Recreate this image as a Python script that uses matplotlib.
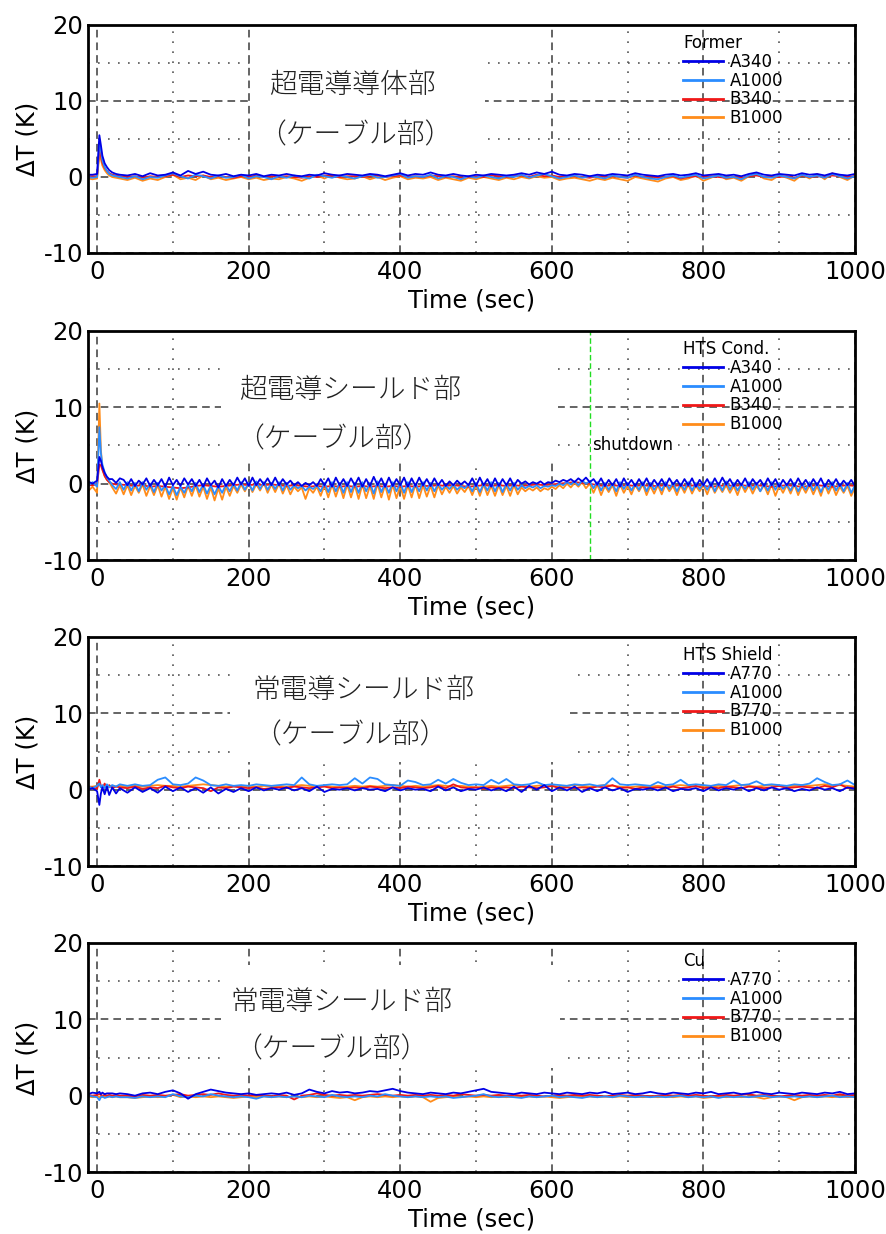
import matplotlib.pyplot as plt
from matplotlib.patches import Rectangle
from matplotlib.ticker import MultipleLocator

plt.rcParams['font.family'] = ['DejaVu Sans', 'Noto Sans CJK JP']
plt.rcParams['axes.unicode_minus'] = False

W, H = 887, 1234

# sampling times (sec)
t = [-12, -6, 0, 3, 5, 7, 10, 13, 16, 20, 25, 30] + list(range(40, 1001, 10))
# finer sampling used for the noisy conductor channels
t_fine = [-12, -6, 0, 3, 5, 7, 10, 13, 16, 20, 25, 30] + list(range(35, 1001, 5))

# --- Former ---
former_a340 = [0.3, 0.3, 0.4, 5.5, 4.2, 2.8, 1.8, 1.3, 0.9, 0.6, 0.4, 0.3,
               0.2, 0.4, 0.1, 0.5, 0.2, 0.3, 0.6, 0.2, 0.8, 0.4,
               0.7, 0.3, 0.2, 0.4, 0.1, 0.3, 0.2, 0.4, 0.1, 0.3,
               0.2, 0.4, 0.2, 0.1, 0.3, 0.2, 0.5, 0.3, 0.2, 0.4,
               0.3, 0.2, 0.4, 0.3, 0.1, 0.3, 0.5, 0.2, 0.4, 0.3,
               0.6, 0.3, 0.2, 0.4, 0.2, 0.1, 0.3, 0.2, 0.4, 0.3,
               0.2, 0.3, 0.5, 0.3, 0.6, 0.4, 0.7, 0.3, 0.2, 0.4,
               0.3, 0.1, 0.3, 0.2, 0.4, 0.3, 0.2, 0.5, 0.3, 0.2,
               0.1, 0.3, 0.4, 0.2, 0.3, 0.5, 0.2, 0.3, 0.4, 0.2,
               0.3, 0.1, 0.4, 0.6, 0.3, 0.2, 0.4, 0.3, 0.2, 0.5,
               0.3, 0.4, 0.2, 0.5, 0.3, 0.2, 0.4]
former_a1000 = [0.0, -0.1, 0.0, 4.6, 3.5, 2.2, 1.3, 0.8, 0.4, 0.2, 0.1, 0.0,
                -0.2, 0.1, -0.3, 0.0, -0.1, 0.2, 0.5, 0.1, -0.2, 0.3,
                0.1, -0.2, 0.2, -0.1, 0.0, 0.3, -0.2, 0.1, 0.0, -0.3,
                0.1, -0.1, 0.2, 0.0, -0.2, 0.3, 0.1, -0.1, 0.2, 0.0,
                -0.2, 0.1, 0.3, -0.1, 0.0, 0.2, 0.4, -0.1, 0.1, 0.0,
                0.3, -0.2, 0.1, 0.0, -0.3, 0.1, -0.1, 0.2, 0.0, -0.2,
                0.1, 0.0, 0.3, -0.1, 0.2, 0.4, 0.1, -0.2, 0.0, 0.2,
                -0.1, 0.1, 0.0, -0.2, 0.2, 0.0, -0.1, 0.3, 0.0, -0.2,
                -0.3, 0.0, 0.2, -0.1, 0.1, 0.3, -0.2, 0.0, 0.2, -0.1,
                0.0, -0.3, 0.2, 0.4, 0.0, -0.1, 0.2, 0.0, -0.2, 0.3,
                0.0, 0.2, -0.1, 0.4, 0.1, -0.2, 0.1]
former_b340 = [0.1, 0.1, 0.1, 3.6, 2.8, 1.9, 1.2, 0.8, 0.5, 0.3, 0.2, 0.1,
               0.0, 0.1, -0.1, 0.1, 0.0, 0.1, 0.3, 0.0, 0.2, 0.1,
               0.2, 0.0, 0.1, 0.0, -0.1, 0.1, 0.0, 0.2, 0.0, 0.1,
               0.0, 0.1, 0.0, -0.1, 0.1, 0.0, 0.2, 0.1, 0.0, 0.1,
               0.1, 0.0, 0.1, 0.2, 0.0, 0.1, 0.2, 0.0, 0.1, 0.0,
               0.2, 0.1, 0.0, 0.1, -0.1, 0.0, 0.1, 0.0, 0.2, 0.1,
               0.0, 0.1, 0.2, 0.0, 0.3, 0.1, 0.2, 0.0, 0.1, 0.1,
               0.0, -0.1, 0.1, 0.0, 0.1, 0.0, -0.1, 0.2, 0.0, 0.1,
               -0.1, 0.0, 0.1, -0.2, 0.0, 0.1, 0.0, 0.1, 0.0, -0.1,
               0.0, -0.1, 0.1, 0.2, 0.0, 0.1, 0.0, 0.1, -0.1, 0.2,
               0.0, 0.1, 0.0, 0.2, 0.1, 0.0, 0.1]
former_b1000 = [-0.2, -0.3, -0.2, 3.0, 2.3, 1.5, 0.9, 0.5, 0.2, 0.0, -0.1, -0.2,
                -0.4, -0.1, -0.5, -0.2, -0.4, 0.0, 0.3, -0.3, -0.1, -0.4,
                0.2, -0.3, -0.1, -0.4, -0.2, 0.0, -0.3, -0.1, -0.4, -0.2,
                -0.3, 0.0, -0.2, -0.5, -0.1, 0.2, -0.2, 0.3, -0.1, -0.3,
                -0.2, 0.1, -0.3, 0.0, -0.4, -0.1, 0.1, -0.3, -0.1, -0.2,
                0.0, -0.4, -0.1, -0.3, -0.5, -0.1, -0.3, 0.0, -0.2, -0.4,
                -0.1, -0.3, 0.0, -0.2, 0.1, -0.1, 0.0, -0.4, -0.2, -0.1,
                -0.3, -0.5, -0.2, -0.4, -0.1, -0.3, -0.5, 0.0, -0.2, -0.4,
                -0.6, -0.2, 0.0, -0.4, -0.2, 0.2, -0.5, -0.1, 0.3, -0.3,
                -0.1, -0.5, 0.1, 0.4, -0.2, -0.4, 0.2, -0.1, -0.5, 0.3,
                -0.2, 0.4, -0.3, 0.5, 0.0, -0.4, 0.2]

# --- HTS conductor (A340, A1000, B1000 on t_fine; B340 on t) ---
cond_a340 = [0.3, 0.0, 0.4, 3.5, 3.0, 2.2, 1.4, 0.9, 0.6, 0.6, 0.1, 0.7,
             0.5, -0.2, 0.6, -0.3, 0.4, -0.1, 0.7, -0.3, 0.5, -0.2, 0.6, -0.4, 0.8, -0.2, 0.5, -0.3, 0.7, -0.1, 0.6, -0.3,
             0.5, -0.4, 0.7, -0.2, 0.4, -0.5, 0.6, -0.3, 0.5, -0.2, 0.8, -0.1, 0.7, -0.3, 0.8, -0.2, 0.6, -0.1, 0.7, -0.2,
             0.8, -0.2, 0.6, -0.1, 0.4, -0.2, 0.2, -0.3, 0.1, -0.2, 0.2, -0.3, 0.6, -0.2, 0.7, -0.4, 0.8, -0.2, 0.6, -0.3,
             0.7, -0.2, 0.8, -0.4, 0.6, -0.3, 0.9, -0.2, 0.7, -0.4, 0.8, -0.3, 0.6, -0.2, 0.8, -0.4, 0.7, -0.3, 0.8, -0.2,
             0.6, -0.3, 0.7, -0.2, 0.5, -0.3, 0.3, -0.2, 0.4, -0.1, 0.3, -0.2, 0.7, -0.3, 0.8, -0.2, 0.6, -0.4, 0.7, -0.3,
             0.6, -0.2, 0.7, -0.3, 0.5, 0.0, 0.3, -0.1, 0.2, 0.0, 0.3, -0.1, 0.2, 0.1, 0.4, 0.2, 0.5, 0.3, 0.6, 0.2,
             0.7, 0.3, 0.8, 0.2, 0.6, -0.1, 0.7, -0.3, 0.5, -0.2, 0.6, -0.4, 0.7, -0.2, 0.5, -0.3, 0.6, -0.2, 0.7, -0.3,
             0.5, -0.2, 0.6, -0.3, 0.7, -0.1, 0.5, -0.3, 0.6, -0.2, 0.7, -0.4, 0.5, -0.2, 0.6, -0.3, 0.7, -0.2, 0.8, -0.1,
             0.6, -0.3, 0.5, -0.2, 0.7, -0.3, 0.6, -0.1, 0.5, -0.3, 0.7, -0.2, 0.6, -0.4, 0.5, -0.2, 0.6, -0.3, 0.7, -0.2,
             0.5, -0.3, 0.6, -0.2, 0.7, -0.4, 0.5, -0.2, 0.6, -0.3, 0.4, -0.2, 0.5, -0.3]
cond_a1000 = [-0.3, 0.2, -0.4, 7.4, 4.0, 2.5, 1.5, 0.8, 0.4, -0.2, -0.7, 0.2,
              -0.8, 0.2, -0.9, 0.1, -1.0, 0.2, -0.8, 0.0, -1.1, 0.1, -0.9, -0.2, -1.4, -0.3, -1.5, -0.4, -1.2, -0.1, -1.0, 0.1,
              -1.1, -0.1, -1.3, -0.2, -1.4, -0.3, -1.2, -0.1, -1.0, 0.0, -0.9, 0.2, -0.8, 0.1, -0.9, 0.3, -0.7, 0.2, -0.8, 0.1,
              -0.7, 0.2, -0.9, 0.1, -0.8, -0.2, -0.6, -0.3, -0.9, -0.4, -0.7, -0.2, -1.0, 0.1, -1.1, 0.2, -1.0, 0.1, -1.2, 0.2,
              -1.1, 0.1, -1.2, 0.2, -1.0, 0.1, -1.3, 0.3, -1.1, 0.0, -1.2, 0.2, -1.0, 0.1, -1.2, 0.2, -1.1, 0.0, -1.0, 0.2,
              -0.9, 0.1, -1.0, 0.0, -0.8, -0.2, -0.7, -0.1, -0.8, -0.3, -0.6, -0.1, -1.0, 0.1, -1.1, 0.0, -0.9, 0.2, -1.0, 0.1,
              -1.1, 0.0, -0.9, 0.1, -0.8, -0.2, -0.6, -0.3, -0.5, -0.2, -0.6, -0.3, -0.4, -0.2, -0.3, 0.0, -0.2, 0.2, -0.1, 0.3,
              -0.2, 0.4, 0.0, 0.3, -0.6, 0.2, -0.9, 0.1, -0.8, 0.0, -1.0, 0.2, -0.7, 0.1, -0.9, 0.0, -0.8, 0.2, -1.0, 0.1,
              -0.8, 0.0, -0.9, 0.2, -0.7, 0.1, -1.0, 0.0, -0.8, 0.2, -0.9, 0.1, -0.7, 0.0, -0.8, 0.2, -1.0, 0.1, -0.9, 0.3,
              -0.8, 0.1, -0.9, 0.0, -0.7, 0.2, -0.8, 0.1, -1.0, 0.0, -0.9, 0.2, -0.8, 0.1, -0.7, -0.1, -0.9, 0.1, -1.0, 0.0,
              -0.8, 0.2, -0.9, 0.1, -1.1, 0.0, -0.8, 0.2, -0.9, 0.0, -1.0, 0.1, -1.2, -0.2]
cond_b340 = [-0.2, -0.2, -0.1, 2.5, 2.4, 1.8, 1.0, 0.5, 0.2, 0.0, -0.1, -0.1,
             -0.2, -0.3, -0.2, -0.4, -0.3, -0.4, -0.5, -0.6, -0.5, -0.3,
             -0.2, -0.3, -0.4, -0.3, -0.2, -0.1, -0.2, -0.1, -0.2, -0.1,
             -0.2, -0.3, -0.2, -0.3, -0.4, -0.3, -0.4, -0.3, -0.4, -0.3,
             -0.4, -0.3, -0.4, -0.3, -0.4, -0.3, -0.4, -0.3, -0.4, -0.3,
             -0.3, -0.2, -0.3, -0.2, -0.3, -0.4, -0.3, -0.2, -0.3, -0.2,
             -0.3, -0.2, -0.3, -0.2, -0.1, -0.2, -0.1, 0.0, 0.1, 0.2,
             0.1, 0.0, -0.2, -0.3, -0.2, -0.3, -0.2, -0.3, -0.2, -0.3,
             -0.3, -0.2, -0.3, -0.2, -0.3, -0.2, -0.3, -0.4, -0.3, -0.2,
             -0.3, -0.2, -0.3, -0.2, -0.3, -0.4, -0.3, -0.2, -0.3, -0.4,
             -0.3, -0.2, -0.3, -0.4, -0.3, -0.2, -0.3]
cond_b1000 = [-1.0, -0.4, -1.2, 10.5, 4.5, 2.0, 1.0, 0.5, 0.2, -0.5, -1.3, -0.2,
              -1.4, -0.2, -1.5, -0.3, -1.2, -0.1, -1.6, -0.3, -1.5, -0.2, -1.7, -0.4, -2.0, -0.6, -2.1, -0.5, -1.8, -0.3, -1.6, -0.2,
              -1.7, -0.4, -2.0, -0.5, -2.2, -0.6, -2.1, -0.4, -1.6, -0.3, -1.2, -0.1, -1.0, 0.0, -1.1, -0.1, -0.9, 0.1, -1.2, -0.1,
              -1.1, 0.0, -1.3, -0.2, -1.4, -0.4, -1.0, -0.5, -2.0, -0.6, -1.2, -0.4, -1.6, -0.2, -1.8, -0.1, -1.7, -0.2, -1.9, -0.1,
              -1.8, -0.2, -2.0, -0.1, -1.9, -0.3, -2.0, 0.0, -1.8, -0.2, -2.1, -0.1, -1.9, -0.3, -2.0, -0.2, -1.8, -0.1, -1.9, -0.2,
              -1.7, -0.3, -1.8, -0.2, -1.4, -0.4, -1.2, -0.3, -1.3, -0.5, -1.1, -0.3, -1.5, -0.2, -1.6, -0.1, -1.5, -0.3, -1.6, -0.2,
              -1.5, -0.3, -1.6, -0.2, -1.4, -0.5, -1.0, -0.6, -0.9, -0.5, -1.0, -0.6, -0.8, -0.4, -0.7, -0.2, -0.6, 0.0, -0.5, 0.1,
              -0.4, 0.2, -0.6, 0.0, -1.2, -0.1, -1.5, -0.3, -1.1, -0.2, -1.6, -0.1, -1.2, -0.3, -1.4, -0.2, -1.0, -0.1, -1.5, -0.3,
              -1.3, -0.2, -1.4, -0.1, -1.0, -0.3, -1.5, -0.2, -1.2, -0.1, -1.3, -0.3, -1.0, -0.2, -1.4, -0.1, -1.2, -0.3, -1.1, -0.2,
              -1.2, -0.3, -1.5, -0.1, -1.1, -0.2, -1.3, -0.3, -1.0, -0.2, -1.4, -0.1, -1.6, -0.3, -1.2, -0.2, -1.3, -0.1, -1.5, -0.3,
              -1.2, -0.2, -1.4, -0.3, -1.6, -0.1, -1.3, -0.2, -1.5, -0.4, -1.2, -0.3, -1.6, -0.5]

# --- HTS shield ---
shield_a770 = [0.0, 0.2, -0.2, -2.0, -0.5, 0.3, -0.6, 0.4, -0.7, 0.3, -0.5, 0.2,
               -0.4, 0.3, -0.3, 0.2, -0.4, 0.4, -0.2, 0.3, -0.3, 0.2,
               -0.4, 0.3, -0.5, 0.1, -0.3, 0.2, -0.2, 0.3, -0.1, 0.2,
               0.0, 0.3, -0.1, 0.2, -0.2, 0.4, -0.3, 0.1, 0.0, 0.2,
               -0.1, 0.2, 0.0, 0.1, -0.2, 0.3, -0.1, 0.2, 0.0, 0.1,
               -0.2, 0.4, -0.1, 0.3, -0.2, 0.1, 0.0, 0.3, -0.1, 0.2,
               -0.2, 0.4, -0.3, 0.5, 0.0, 0.6, -0.2, 0.3, -0.1, 0.4,
               -0.3, 0.2, -0.2, 0.3, -0.1, 0.2, -0.3, 0.1, 0.0, 0.2,
               -0.1, 0.3, -0.2, 0.1, 0.0, 0.2, -0.2, 0.3, -0.1, 0.2,
               0.0, 0.3, -0.2, 0.2, -0.1, 0.3, 0.0, 0.2, -0.2, 0.1,
               -0.1, 0.3, 0.0, 0.2, -0.2, 0.3, 0.1]
shield_a1000 = [0.4, 0.2, 0.5, 0.8, 0.3, 0.6, 0.2, 0.7, 0.3, 0.6, 0.4, 0.7,
                0.5, 0.7, 0.5, 0.6, 1.3, 1.6, 0.7, 0.6, 0.8, 1.6,
                1.2, 0.6, 0.5, 0.7, 0.5, 0.6, 0.5, 0.7, 0.6, 0.5,
                0.6, 0.7, 0.6, 1.6, 0.7, 0.5, 0.6, 0.7, 0.6, 0.7,
                1.5, 0.8, 1.6, 1.4, 0.7, 0.6, 0.5, 1.2, 1.0, 0.6,
                0.7, 1.3, 0.8, 1.4, 0.9, 0.6, 0.7, 0.6, 1.3, 0.8,
                1.4, 0.7, 0.6, 0.7, 1.0, 0.6, 0.7, 0.6, 0.5, 0.7,
                0.6, 0.7, 0.5, 0.6, 1.5, 0.7, 0.6, 0.7, 0.6, 0.5,
                1.0, 0.6, 0.7, 1.3, 0.6, 0.7, 0.6, 0.5, 0.7, 0.6,
                1.2, 0.6, 0.7, 1.1, 0.6, 0.7, 0.6, 0.5, 0.7, 0.6,
                0.8, 1.5, 1.0, 0.6, 0.7, 1.2, 0.6]
shield_b770 = [0.2, 0.3, 0.1, 1.3, 0.5, 0.2, 0.8, 0.1, 0.6, 0.2, 0.4, 0.3,
               0.2, 0.4, 0.1, 0.3, 0.2, 0.5, 0.3, 0.2, 0.4, 0.3,
               0.2, -0.2, 0.3, 0.2, 0.4, 0.3, 0.2, 0.3, 0.1, 0.2,
               0.3, 0.2, 0.4, 0.3, 0.2, 0.3, 0.4, 0.2, 0.3, 0.2,
               0.3, 0.2, 0.4, 0.3, 0.2, 0.3, 0.2, 0.4, 0.3, 0.2,
               0.3, 0.5, 0.2, 0.7, 0.3, 0.2, 0.3, 0.1, 0.3, 0.2,
               0.3, 0.2, 0.4, 0.3, 0.2, 0.3, 0.5, 0.2, 0.3, 0.2,
               0.3, 0.2, 0.4, 0.3, 0.6, 0.2, 0.3, 0.1, 0.3, 0.2,
               0.3, 0.2, 0.4, 0.2, 0.3, 0.5, 0.2, 0.3, 0.2, 0.4,
               0.3, 0.2, 0.4, 0.3, 0.2, 0.3, 0.5, 0.2, 0.3, 0.4,
               0.3, 0.2, 0.5, 0.3, 0.7, 0.2, 0.3]
shield_b1000 = [0.4, 0.4, 0.5, 0.6, 0.5, 0.5, 0.4, 0.5, 0.5, 0.5, 0.4, 0.5,
                0.4, 0.5, 0.4, 0.5, 0.6, 0.5, 0.5, 0.4, 0.5, 0.6,
                0.7, 0.6, 0.5, 0.4, 0.5, 0.4, 0.5, 0.4, 0.5, 0.4,
                0.5, 0.4, 0.5, 0.6, 0.5, 0.4, 0.5, 0.4, 0.3, 0.4,
                0.5, 0.4, 0.5, 0.4, 0.5, 0.6, 0.5, 0.4, 0.5, 0.4,
                0.5, 0.6, 0.5, 0.4, 0.5, 0.4, 0.3, 0.4, 0.5, 0.4,
                0.5, 0.6, 0.5, 0.4, 0.5, 0.6, 0.5, 0.4, 0.5, 0.6,
                0.5, 0.4, 0.5, 0.6, 0.5, 0.4, 0.3, 0.4, 0.5, 0.4,
                0.5, 0.4, 0.5, 0.6, 0.5, 0.4, 0.5, 0.4, 0.5, 0.4,
                0.5, 0.6, 0.5, 0.4, 0.5, 0.6, 0.5, 0.4, 0.5, 0.6,
                0.5, 0.6, 0.7, 0.5, 0.6, 0.5, 0.4]

# --- Cu ---
cu_a770 = [0.2, 0.4, 0.3, 0.5, 0.2, 0.4, 0.2, 0.3, 0.3, 0.3, 0.2, 0.3,
           0.2, 0.0, 0.3, 0.4, 0.2, 0.5, 0.7, 0.3, -0.4, 0.2,
           0.5, 0.8, 0.6, 0.4, 0.3, 0.2, 0.3, 0.1, 0.2, 0.3,
           0.2, 0.4, 0.1, 0.3, 0.8, 0.5, 0.3, 0.6, 0.4, 0.5,
           0.3, 0.4, 0.6, 0.5, 0.7, 0.9, 0.6, 0.4, 0.3, 0.2,
           0.4, 0.3, 0.2, 0.4, 0.3, 0.5, 0.7, 0.9, 0.5, 0.4,
           0.3, 0.2, 0.4, 0.3, 0.2, 0.4, 0.3, 0.2, 0.4, 0.3,
           0.2, 0.4, 0.3, 0.5, 0.2, 0.3, 0.4, 0.2, 0.3, 0.5,
           0.3, 0.2, 0.4, 0.3, 0.2, 0.4, 0.3, 0.5, 0.2, 0.3,
           0.4, 0.2, 0.3, 0.5, 0.3, 0.2, 0.4, 0.3, 0.2, 0.4,
           0.3, 0.2, 0.4, 0.3, 0.5, 0.2, 0.3]
cu_a1000 = [0.0, -0.1, -0.2, -0.6, -0.2, -0.1, -0.3, -0.2, -0.1, -0.2, -0.1, -0.2,
            -0.2, -0.3, -0.1, -0.2, -0.1, -0.2, 0.2, -0.1, -0.2, 0.0,
            -0.1, 0.2, 0.0, -0.1, -0.2, -0.1, -0.2, -0.4, -0.1, -0.2,
            -0.1, -0.2, -0.1, -0.2, 0.0, -0.1, -0.2, 0.1, -0.1, -0.2,
            -0.1, -0.2, 0.0, -0.1, 0.2, 0.0, -0.1, -0.2, -0.1, -0.2,
            -0.1, -0.2, -0.1, -0.3, -0.2, -0.1, 0.0, 0.2, -0.1, -0.2,
            -0.1, -0.2, -0.3, -0.1, -0.2, -0.1, 0.0, -0.2, -0.1, -0.2,
            -0.3, -0.1, -0.2, -0.1, -0.2, 0.0, -0.1, -0.2, -0.1, -0.2,
            -0.1, -0.2, -0.1, 0.0, -0.2, -0.1, -0.2, -0.1, -0.3, -0.1,
            -0.2, -0.1, -0.2, -0.1, 0.0, -0.2, -0.1, -0.2, -0.1, -0.2,
            -0.1, -0.2, -0.1, 0.0, -0.2, -0.1, -0.2]
cu_b770 = [0.1, 0.0, 0.1, 0.2, 0.1, 0.0, 0.1, 0.0, 0.1, 0.0, 0.1, 0.0,
           0.0, -0.1, 0.1, 0.0, 0.1, 0.0, 0.1, 0.2, 0.0, 0.1,
           0.2, 0.1, 0.3, 0.1, 0.0, 0.1, 0.0, 0.1, 0.0, -0.1,
           0.1, 0.0, -0.5, 0.0, 0.1, 0.3, 0.1, 0.0, 0.1, 0.0,
           0.1, 0.0, 0.1, 0.2, 0.1, 0.0, 0.1, 0.0, 0.1, 0.0,
           0.1, 0.0, 0.1, 0.0, 0.2, 0.1, 0.0, 0.1, 0.0, 0.1,
           0.0, 0.1, 0.0, 0.1, 0.0, -0.1, 0.0, 0.1, 0.0, 0.1,
           0.0, 0.1, 0.0, -0.1, 0.0, 0.1, 0.0, 0.1, 0.0, -0.1,
           0.0, 0.1, 0.0, 0.1, 0.0, 0.1, 0.0, -0.1, 0.0, 0.1,
           0.0, 0.1, 0.2, 0.0, 0.1, 0.0, -0.1, 0.0, 0.1, 0.0,
           0.1, 0.0, 0.1, 0.0, 0.2, 0.0, 0.1]
cu_b1000 = [-0.1, -0.2, -0.1, -0.2, -0.1, -0.2, -0.1, -0.2, -0.1, -0.2, -0.1, -0.2,
            -0.2, -0.3, -0.2, -0.1, -0.2, -0.1, 0.1, -0.2, -0.1, -0.2,
            -0.1, -0.2, -0.1, -0.2, -0.3, -0.2, -0.1, -0.2, -0.1, -0.2,
            -0.1, -0.2, -0.1, -0.2, -0.1, -0.2, -0.1, -0.2, -0.3, -0.2,
            -0.6, -0.2, -0.1, -0.2, -0.1, -0.2, -0.1, -0.2, -0.1, -0.2,
            -0.8, -0.3, -0.2, -0.1, -0.2, -0.1, -0.2, -0.1, -0.2, -0.1,
            -0.2, -0.1, -0.2, -0.1, -0.2, -0.1, -0.2, -0.3, -0.2, -0.1,
            -0.2, -0.1, -0.2, -0.1, -0.2, -0.1, -0.2, -0.1, -0.2, -0.1,
            -0.2, -0.1, -0.2, -0.1, -0.2, -0.1, -0.3, -0.2, -0.1, -0.2,
            -0.1, -0.2, -0.1, -0.2, -0.4, -0.2, -0.1, -0.2, -0.6, -0.2,
            -0.1, -0.2, -0.1, -0.2, -0.1, -0.2, -0.1]

shutdown_time = 650

blue, light_blue, red, orange = '#0000e6', '#2a8cff', '#f01818', '#ff8c1a'

panels = [
    dict(title='Former', labels=['A340', 'A1000', 'B340', 'B1000'],
         series=[(t, former_a340), (t, former_a1000), (t, former_b340), (t, former_b1000)],
         top=25, bottom=253, box=(250, 25, 485, 160),
         texts=[('超電導導体部', 352, 85), ('（ケーブル部）', 355, 135)]),
    dict(title='HTS Cond.', labels=['A340', 'A1000', 'B340', 'B1000'],
         series=[(t_fine, cond_a340), (t_fine, cond_a1000), (t, cond_b340), (t_fine, cond_b1000)],
         top=331, bottom=560, box=(221, 331, 558, 460),
         texts=[('超電導シールド部', 350, 390), ('（ケーブル部）', 333, 439)]),
    dict(title='HTS Shield', labels=['A770', 'A1000', 'B770', 'B1000'],
         series=[(t, shield_a770), (t, shield_a1000), (t, shield_b770), (t, shield_b1000)],
         top=637, bottom=866, box=(230, 637, 570, 762),
         texts=[('常電導シールド部', 363, 690), ('（ケーブル部）', 350, 735)]),
    dict(title='Cu', labels=['A770', 'A1000', 'B770', 'B1000'],
         series=[(t, cu_a770), (t, cu_a1000), (t, cu_b770), (t, cu_b1000)],
         top=943, bottom=1172, box=(221, 965, 560, 1068),
         texts=[('常電導シールド部', 341, 1002), ('（ケーブル部）', 331, 1049)]),
]

colors = [blue, light_blue, red, orange]
AX_L, AX_R = 88, 855

fig = plt.figure(figsize=(W / 100, H / 100), dpi=100)

for k, p in enumerate(panels):
    ax = fig.add_axes([AX_L / W, 1 - p['bottom'] / H,
                       (AX_R - AX_L) / W, (p['bottom'] - p['top']) / H])
    ax.set_xlim(-12, 1000)
    ax.set_ylim(-10, 20)
    ax.xaxis.set_major_locator(MultipleLocator(200))
    ax.xaxis.set_minor_locator(MultipleLocator(100))
    ax.yaxis.set_major_locator(MultipleLocator(10))
    ax.yaxis.set_minor_locator(MultipleLocator(5))
    ax.set_axisbelow(True)
    ax.grid(which='major', color='#3a3a3a', ls=(0, (5, 3.3)), lw=1.1)
    ax.grid(which='minor', color='#555555', ls=(0, (1, 5)), lw=1.2)
    ax.tick_params(which='both', length=0, labelsize=17.5)
    ax.tick_params(axis='x', pad=5)
    ax.tick_params(axis='y', pad=3.5)
    for sp in ax.spines.values():
        sp.set_linewidth(2)

    # white area behind the annotation text
    x0, y0, x1, y1 = p['box']
    ax.add_patch(Rectangle((x0 / W, 1 - y1 / H), (x1 - x0) / W, (y1 - y0) / H,
                           transform=fig.transFigure, facecolor='white',
                           edgecolor='none', zorder=1))
    for s, xp, yp in p['texts']:
        ax.text(xp / W, 1 - yp / H, s, transform=fig.transFigure,
                ha='center', va='center', fontsize=20, color='#222222',
                family=['Noto Sans CJK JP'], fontweight='light', zorder=3)

    lines = {}
    for idx in [3, 2, 1, 0]:
        tt, yy = p['series'][idx]
        lines[idx], = ax.plot(tt, yy, color=colors[idx], lw=1.3)

    leg = ax.legend([lines[i] for i in range(4)], p['labels'], title=p['title'],
                    loc='upper left',
                    bbox_to_anchor=((683 - AX_L) / (AX_R - AX_L),
                                    1 - 9 / (p['bottom'] - p['top'])),
                    frameon=False, fontsize=12, title_fontsize=12,
                    borderpad=0, borderaxespad=0, labelspacing=0.05,
                    handlelength=2.4, handletextpad=0.4, alignment='left')
    for h in leg.get_lines():
        h.set_linewidth(2)

    if k == 1:
        ax.axvline(shutdown_time, color='#22dd22', ls=(0, (4, 2)), lw=1.0, zorder=1.5)
        ax.text(shutdown_time + 3, 5, 'shutdown', fontsize=12, ha='left', va='center',
                bbox=dict(facecolor='white', edgecolor='none', pad=0.5), zorder=3)

    ax.set_xlabel('Time (sec)', fontsize=17.5, labelpad=3)
    ax.set_ylabel('ΔT (K)', fontsize=17.5, labelpad=3)

fig.savefig('out.png', dpi=100)
